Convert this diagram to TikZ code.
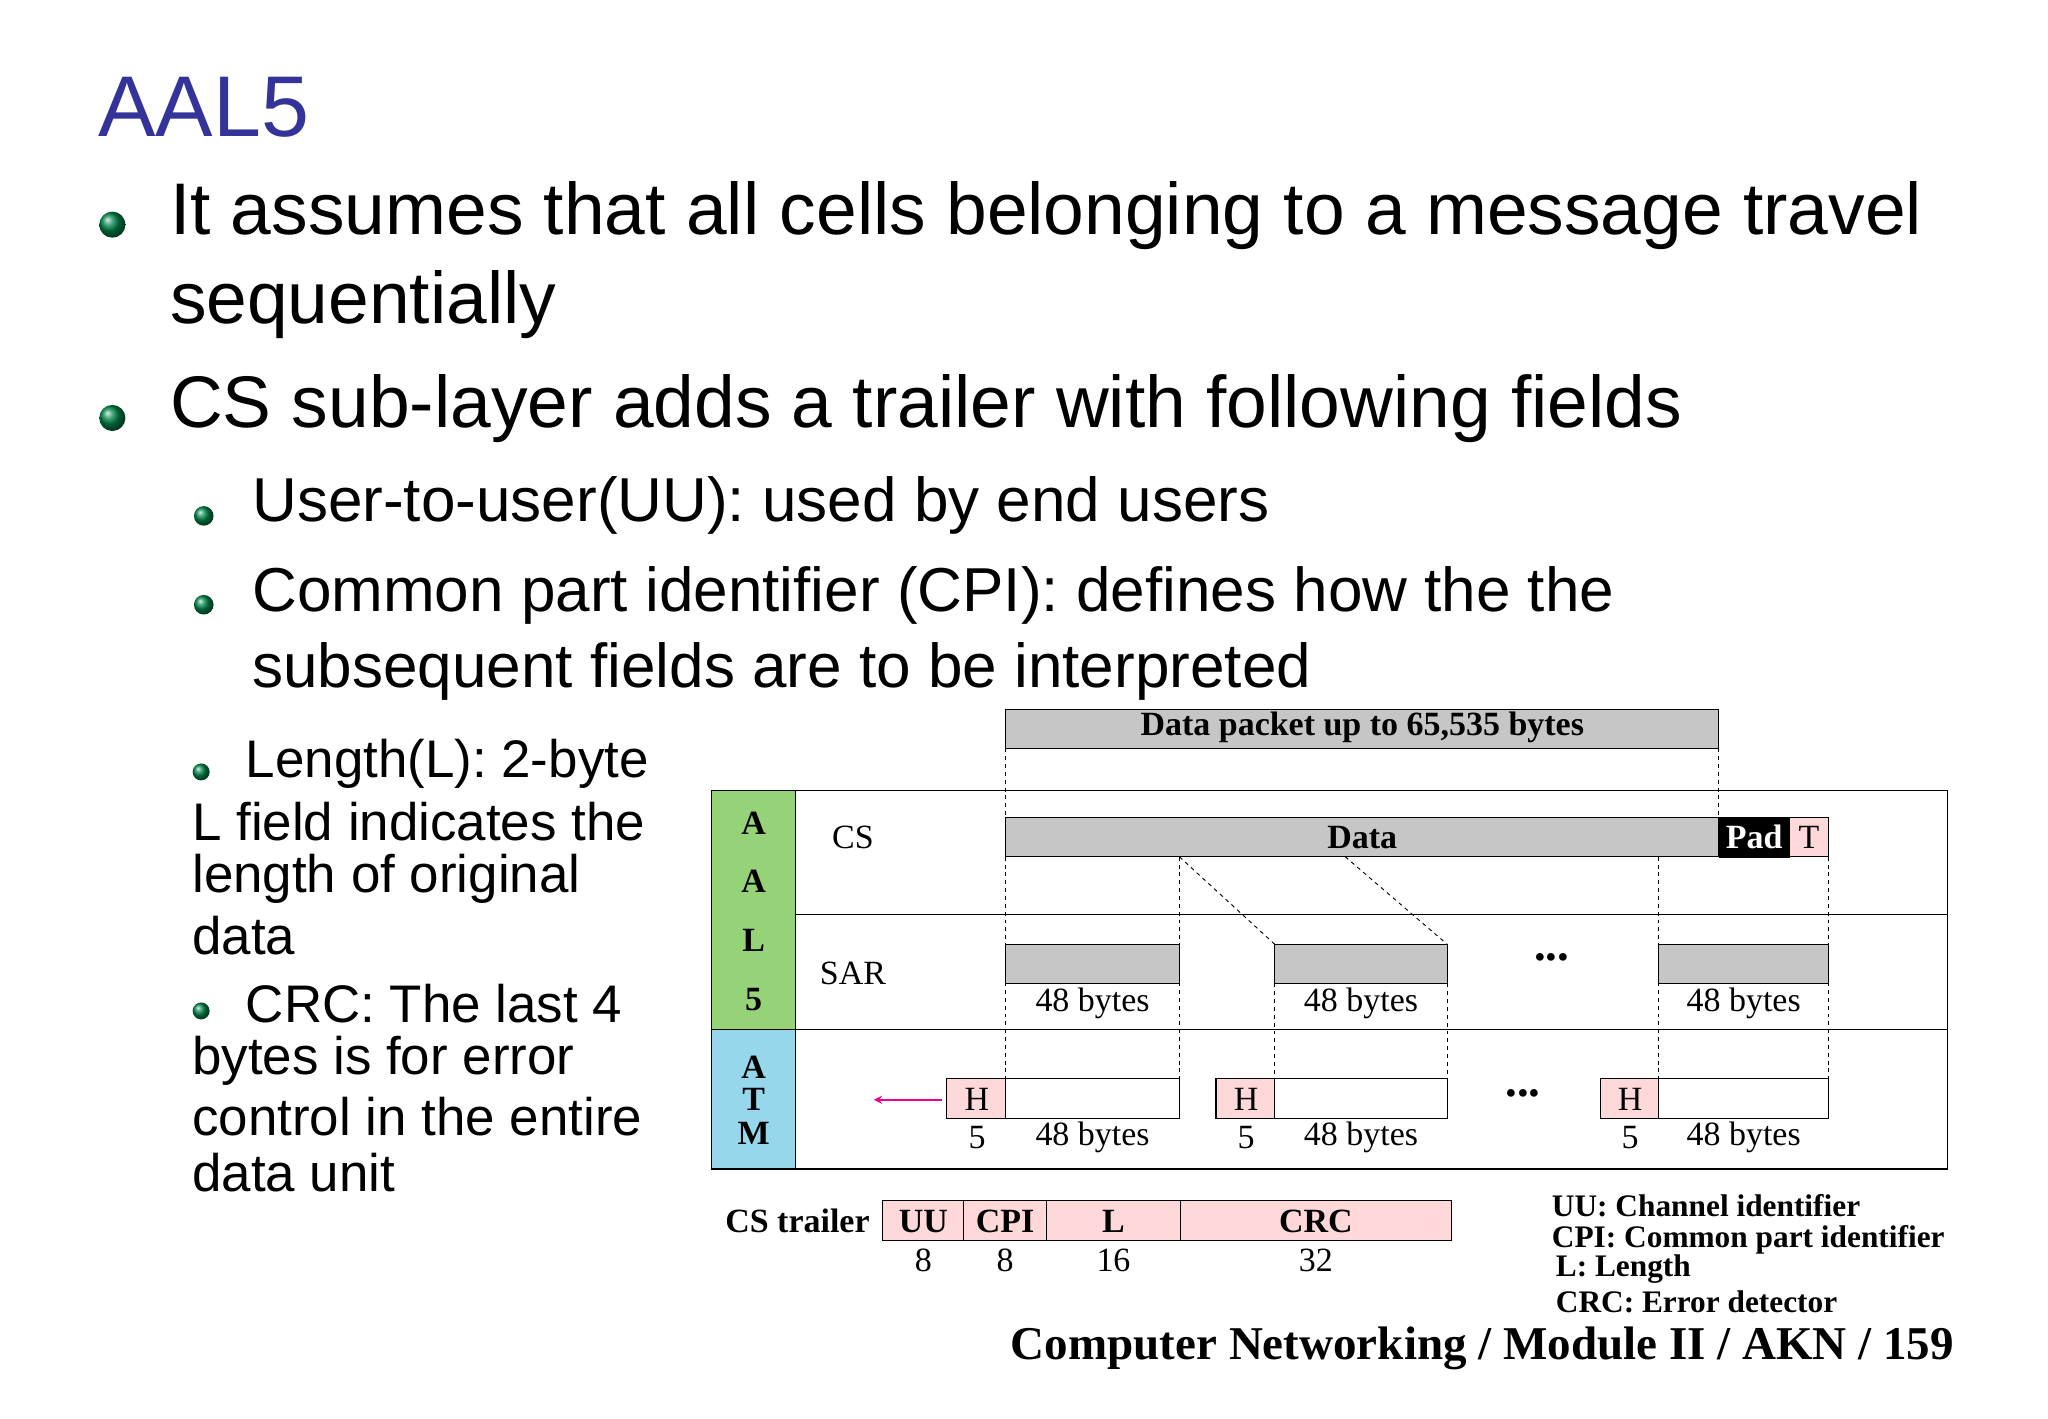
\documentclass[tikz,border=0pt]{standalone}
\usepackage{fontspec}
\setmainfont{Liberation Serif}
\setsansfont{DejaVu Sans}
\newfontfamily\tah{Liberation Sans}
\begin{document}
\begin{tikzpicture}[x=1pt,y=-1pt,
  tx/.style={anchor=west,inner sep=0pt,font=\tah\fontsize{56}{64}\selectfont},
  sx/.style={anchor=west,inner sep=0pt,font=\tah\fontsize{47.5}{54}\selectfont},
  lx/.style={anchor=west,inner sep=0pt,font=\tah\fontsize{40.5}{46}\selectfont},
  dg/.style={font=\bfseries\fontsize{26}{28}\selectfont,inner sep=0pt},
  dn/.style={font=\fontsize{26}{28}\selectfont,inner sep=0pt},
  lg/.style={font=\bfseries\fontsize{24}{26}\selectfont,inner sep=0pt,anchor=west},
  gbox/.style={draw,fill=gray!45,line width=0.8pt},
  pbox/.style={draw,fill=pink!60,line width=0.8pt},
  wbox/.style={draw,line width=0.8pt},
  dl/.style={dashed,line width=0.7pt},
  bul/.style={circle,inner sep=0pt,minimum size=#1,ball color=teal!70!green!80!black},
]
\useasboundingbox (0,0) rectangle (1568,1086);
\definecolor{ttl}{RGB}{51,51,153}
\definecolor{agreen}{RGB}{150,210,120}
\definecolor{ablue}{RGB}{150,215,235}
\node[anchor=west,inner sep=0pt,text=ttl,font=\tah\fontsize{66}{74}\selectfont] (title) at (75,82) {AAL5};
\node[bul=20pt] (b1) at (86,172) {};
\node[bul=20pt] (b2) at (86,320) {};
\node[bul=15pt] (b3) at (156,395) {};
\node[bul=15pt] (b4) at (156,463) {};
\node[bul=13pt] (b5) at (154,591) {};
\node[bul=13pt] (b6) at (154,774) {};
\node[tx] (t1) at (130,165) {It assumes that all cells belonging to a message travel};
\node[tx] (t2) at (130,233) {sequentially};
\node[tx] (t3) at (130,313) {CS sub-layer adds a trailer with following fields};
\node[sx] (t4) at (193,387) {User-to-user(UU): used by end users};
\node[sx] (t5) at (193,456) {Common part identifier (CPI): defines how the the};
\node[sx] (t6) at (193,514) {subsequent fields are to be interpreted};
\node[lx] (l1) at (188,585) {Length(L): 2-byte};
\node[lx] (l2) at (147,629) {L field indicates the};
\node[lx] (l3) at (147,673) {length of original};
\node[lx] (l4) at (147,716) {data};
\node[lx] (l5) at (188,768) {CRC: The last 4};
\node[lx] (l6) at (147,812) {bytes is for error};
\node[lx] (l7) at (147,855) {control in the entire};
\node[lx] (l8) at (147,898) {data unit};
% diagram
\draw[gbox] (770,543) rectangle (1316,573);
\node[dg] (dp) at (1043,557) {Data packet up to 65,535 bytes};
\fill[agreen] (545,605) rectangle (609,788);
\fill[ablue] (545,788) rectangle (609,895);
\draw[line width=1pt] (545,605) rectangle (1491,895);
\draw[line width=1pt] (609,605) -- (609,895);
\draw[line width=1pt] (609,700) -- (1491,700);
\draw[line width=1pt] (545,788) -- (1491,788);
\foreach \l/\y in {A/630,A/675,L/720,5/765,A/817,T/842,M/868}
  \node[dg] at (577,\y) {\l};
\node[dn] (cs) at (653,641) {CS};
\node[dn] (sar) at (653,745) {SAR};
\draw[dl] (770,573) -- (770,626);
\draw[dl] (1316,573) -- (1316,626);
\draw[gbox] (770,626) rectangle (1316,656);
\node[dg] (data) at (1043,641) {Data};
\draw[draw,fill=black] (1316,626) rectangle (1370,656);
\node[dg,text=white] (pad) at (1343,641) {Pad};
\draw[pbox] (1370,626) rectangle (1400,656);
\node[dn] (T) at (1385,641) {T};
% dashed
\draw[dl] (770,656) -- (770,826);
\draw[dl] (903,656) -- (903,826);
\draw[dl] (903,656) -- (976,723);
\draw[dl] (1030,656) -- (1108,723);
\draw[dl] (976,723) -- (976,826);
\draw[dl] (1108,723) -- (1108,826);
\draw[dl] (1270,656) -- (1270,826);
\draw[dl] (1400,656) -- (1400,826);
\foreach \a/\b in {770/903,976/1108,1270/1400}{
  \draw[gbox] (\a,723) rectangle (\b,753);
  \node[dn,fill=white,inner sep=1pt] at ({(\a+\b)/2},768) {48 bytes};
  \draw[wbox] (\a,826) rectangle (\b,856);
  \node[dn] at ({(\a+\b)/2},871) {48 bytes};
  \draw[pbox] (\a-45,826) rectangle (\a,856);
  \node[dn] at (\a-22,842) {H};
  \node[dn] at (\a-22,871) {5};
}
\node[font=\bfseries\fontsize{36}{36}\selectfont] (d1) at (1188,733) {...};
\node[font=\bfseries\fontsize{36}{36}\selectfont] (d2) at (1166,837) {...};
\coordinate (hs) at (721,842);
\coordinate (he) at (669,842);
\draw[-stealth,color=magenta,line width=1.8pt] (hs) -- (he);
% trailer
\node[dg,anchor=east] (cst) at (666,935) {CS trailer};
\foreach \a/\b/\t/\n in {676/738/UU/8,738/801/CPI/8,801/904/L/16,904/1111/CRC/32}{
  \draw[pbox] (\a,919) rectangle (\b,950);
  \node[dg] at ({(\a+\b)/2},935) {\t};
  \node[dn] at ({(\a+\b)/2},965) {\n};
}
\node[lg] (g1) at (1188,923) {UU: Channel identifier};
\node[lg] (g2) at (1188,949) {CPI: Common part identifier};
\node[lg] (g3) at (1191,972) {L: Length};
\node[lg] (g4) at (1191,997) {CRC: Error detector};
\node[font=\bfseries\fontsize{36}{40}\selectfont,inner sep=0pt] (foot) at (1135,1032) {Computer Networking / Module II / AKN / 159};
\end{tikzpicture}
\end{document}
